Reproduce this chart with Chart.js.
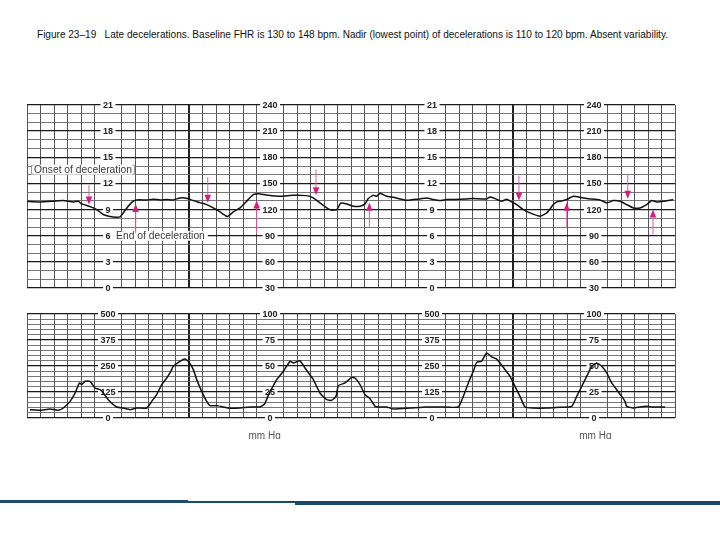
<!DOCTYPE html>
<html>
<head>
<meta charset="utf-8">
<script src="https://cdn.jsdelivr.net/npm/chart.js@4.4.1/dist/chart.umd.min.js"></script>
<style>
  html, body { margin: 0; padding: 0; background: #fff; }
  body { width: 720px; height: 540px; position: relative; overflow: hidden; font-family: 'Liberation Sans', Arial, sans-serif; }
  #title { position: absolute; left: 37px; top: 29.5px; font-size: 10px; line-height: 10px; white-space: pre; transform-origin: 0 0; color: #111; }
  #fhr { position: absolute; left: 17px; top: 95px; }
  #uc  { position: absolute; left: 17px; top: 304px; }
  .rule { position: absolute; background: #1b4a6e; }
</style>
</head>
<body>
<div id="title">Figure 23–19   Late decelerations. Baseline FHR is 130 to 148 bpm. Nadir (lowest point) of decelerations is 110 to 120 bpm. Absent variability.</div>
<canvas id="fhr" width="668" height="203"></canvas>
<canvas id="uc" width="668" height="135"></canvas>
<div class="rule" style="left:0;top:500px;width:188px;height:3px"></div>
<div class="rule" style="left:188px;top:501px;width:107px;height:2px"></div>
<div class="rule" style="left:295px;top:501px;width:425px;height:3.5px"></div>

<script>
// strip time in small boxes (one vertical grid step each)
const fhrTime = [0, 0.96, 1.95, 2.69, 3.43, 3.8, 4.05, 4.67, 5.16, 5.65, 6.15, 6.64, 6.89, 7.13, 7.5, 7.87, 8.12, 8.87, 9.36, 9.85,
  10.35, 10.84, 11.33, 11.83, 12.32, 12.81, 13.31, 13.8, 14.3, 14.84, 15.28, 15.78, 16.27, 16.76, 17.26, 17.88, 18.74, 19.73, 20.72, 21.21,
  21.7, 22.2, 22.57, 22.94, 23.24, 23.68, 24.17, 24.67, 25.04, 25.28, 25.65, 25.9, 26.15, 26.64, 27.13, 27.63, 28.13, 28.61, 29.11, 29.61,
  30.1, 30.59, 31.09, 31.58, 32.57, 33.06, 34.05, 34.3, 34.67, 35.16, 35.53, 35.9, 36.27, 36.76, 37.26, 38.0, 38.5, 38.99, 39.24, 39.73,
  39.98, 40.47, 40.96, 41.46, 42.44, 42.94, 43.43, 43.93, 44.42, 44.91, 45.41, 45.9, 46.27, 46.64, 47.13, 47.87];
const fhrBpm = [129.5, 128.8, 129.6, 130.3, 128.8, 129.6, 126.5, 123.4, 120.0, 114.3, 112.0, 111.2, 111.6, 116.2, 123.8, 129.6, 131.1, 131.1, 131.8, 131.1,
  131.5, 131.1, 133.4, 133.0, 130.3, 128.0, 125.7, 121.9, 117.3, 112.0, 117.3, 121.9, 129.6, 137.2, 138.0, 136.4, 135.3, 136.4, 136.0, 133.4,
  127.6, 121.9, 119.3, 120.0, 127.3, 126.5, 123.8, 123.8, 126.5, 132.6, 136.4, 135.3, 138.7, 135.3, 134.1, 132.2, 130.7, 131.5, 132.2, 133.4,
  131.5, 130.3, 131.5, 131.5, 132.2, 132.6, 132.2, 134.5, 132.6, 129.6, 131.8, 128.8, 125.7, 120.0, 116.2, 112.4, 116.2, 125.7, 128.8, 130.3,
  131.5, 135.3, 134.1, 132.6, 131.1, 127.6, 130.3, 129.6, 125.7, 121.9, 121.9, 125.7, 130.3, 128.8, 129.6, 131.5];

const ucTime = [0.22, 0.96, 1.7, 2.32, 2.69, 3.19, 3.56, 3.88, 4.05, 4.3, 4.67, 5.04, 5.41, 5.65, 6.02, 6.64, 7.13, 7.63, 8.12, 8.87,
  9.24, 9.6, 9.98, 10.35, 10.59, 10.84, 11.33, 11.7, 11.95, 12.32, 12.57, 12.94, 13.31, 13.56, 14.05, 14.54, 15.04, 15.78, 16.52, 17.26,
  17.6, 17.88, 18.2, 18.5, 18.99, 19.48, 19.73, 20.22, 20.59, 21.21, 21.7, 22.2, 22.57, 22.89, 23.06, 23.56, 24.05, 24.3, 24.67, 25.04,
  25.41, 25.78, 26.02, 26.64, 27.13, 28.37, 29.61, 30.59, 31.95, 32.32, 32.69, 33.06, 33.31, 33.68, 34.05, 34.42, 34.79, 35.04, 35.41, 35.78,
  36.15, 36.52, 36.89, 37.5, 38.5, 39.48, 40.35, 40.72, 41.09, 41.46, 41.83, 42.2, 42.57, 42.94, 43.31, 43.68, 44.05, 44.3, 44.42, 44.91,
  45.41, 45.9, 46.39, 47.26];
const ucValue = [8.0, 7.4, 8.7, 7.4, 9.6, 16.0, 24.0, 33.7, 32.1, 35.3, 35.3, 28.8, 27.2, 24.0, 17.6, 10.6, 9.6, 8.0, 9.6, 9.6,
  16.0, 22.4, 32.1, 38.5, 43.3, 49.7, 54.5, 56.7, 54.5, 46.5, 36.9, 25.6, 16.0, 11.9, 11.9, 10.6, 9.3, 9.6, 10.6, 10.6,
  13.5, 22.0, 30.0, 36.9, 44.9, 54.5, 52.9, 55.1, 48.1, 36.9, 24.0, 17.6, 17.0, 20.8, 31.1, 33.7, 39.1, 38.5, 32.1, 22.4,
  18.6, 11.2, 10.6, 10.6, 8.7, 9.6, 10.6, 10.6, 10.6, 20.8, 33.7, 44.9, 53.5, 54.5, 62.5, 58.7, 56.7, 52.9, 46.5, 40.1,
  30.4, 20.8, 10.6, 9.6, 9.6, 10.3, 11.2, 20.8, 30.4, 40.1, 49.7, 52.9, 49.7, 43.3, 33.7, 27.2, 20.8, 16.0, 11.2, 9.6,
  10.6, 11.2, 10.6, 10.6];

const fhrTickValues = [240, 210, 180, 150, 120, 90, 60, 30];
const kpaLabels = ['21', '18', '15', '12', '9', '6', '3', '0'];
const bpmLabels = ['240', '210', '180', '150', '120', '90', '60', '30'];
const ucTickValues = [100, 75, 50, 25, 0];
const ucLeftLabels = ['500', '375', '250', '125', '0'];
const ucRightLabels = ['100', '75', '50', '25', '0'];

// onset arrows point down, end arrows point up (bpm from tail to tip)
const onsetTime = [4.59, 13.39, 21.41, 36.44, 44.5];
const onsetFrom = [148, 157, 166, 159, 161];
const onsetTo = [125.7, 127.7, 136.4, 130.3, 132.3];
const endTime = [8.05, 17.01, 25.36, 39.98, 46.37];
const endFrom = [93.3, 92.2, 99.7, 99.7, 91.4];
const endTo = [126.5, 130.3, 127.7, 127.7, 120.0];

const LABEL_COLUMNS = [6, 18, 30, 42];
const THICK_COLUMNS = [12, 36];
const LABEL_FONT = 'bold 9px "Liberation Sans", Arial, sans-serif';
const NOTE_FONT = '10.3px "Liberation Sans", Arial, sans-serif';

// chart paper rulings
const boxColumns = Array.from({ length: 49 }, (_, i) => i);
const fhrRows = Array.from({ length: 22 }, (_, i) => 30 + i * 10);
const ucRows = Array.from({ length: 21 }, (_, i) => i * 5);
const fixTicks = list => axis => { axis.ticks = list.map(v => ({ value: v })); };

function xAxis() {
  return {
    type: 'linear', min: 0, max: 48,
    afterBuildTicks: fixTicks(boxColumns),
    ticks: { display: false },
    border: { display: false },
    grid: {
      drawTicks: false,
      color: c => LABEL_COLUMNS.includes(c.tick.value) ? 'rgba(0,0,0,0)' : (THICK_COLUMNS.includes(c.tick.value) ? '#222' : '#555'),
      lineWidth: c => THICK_COLUMNS.includes(c.tick.value) ? 2 : 1
    }
  };
}

function yAxis(min, max, rows, major) {
  return {
    min, max,
    afterBuildTicks: fixTicks(rows),
    ticks: { display: false },
    border: { display: false },
    grid: {
      drawTicks: false,
      color: c => c.tick.value % major === 0 ? '#1a1a1a' : '#666',
      lineWidth: c => c.tick.value % major === 0 ? 1.3 : 0.9
    }
  };
}

const stripLabels = {
  id: 'stripLabels',
  beforeDatasetsDraw(chart, args, opts) {
    const { ctx, scales: { x, y } } = chart;
    ctx.save();
    ctx.font = LABEL_FONT;
    ctx.textAlign = 'center';
    ctx.textBaseline = 'middle';
    LABEL_COLUMNS.forEach((col, ci) => {
      const labels = opts.labels[ci % 2];
      const px = x.getPixelForValue(col);
      opts.values.forEach((v, i) => {
        const py = y.getPixelForValue(v);
        const w = ctx.measureText(labels[i]).width + 5;
        ctx.fillStyle = '#fff';
        ctx.fillRect(px - w / 2, py - 5, w, 10);
        ctx.fillStyle = '#222';
        ctx.fillText(labels[i], px, py + 0.5);
      });
    });
    ctx.restore();
  }
};

function noteText(ctx, text, px, py, bracket) {
  ctx.font = NOTE_FONT;
  const w = ctx.measureText(text).width;
  ctx.fillStyle = '#fff';
  ctx.fillRect(px - 3, py - 5, w + 6, 10);
  if (bracket) {
    ctx.strokeStyle = '#999';
    ctx.lineWidth = 1;
    [px - 2.5, px + w + 2.5].forEach((bx, k) => {
      const d = k === 0 ? 2 : -2;
      ctx.beginPath();
      ctx.moveTo(bx + d, py - 4.5); ctx.lineTo(bx, py - 4.5); ctx.lineTo(bx, py + 4.5); ctx.lineTo(bx + d, py + 4.5);
      ctx.stroke();
    });
  }
  ctx.fillStyle = '#3a3a3a';
  ctx.textBaseline = 'middle';
  ctx.fillText(text, px, py + 0.5);
}

function drawArrow(ctx, x, y0, y1) {
  const dir = Math.sign(y1 - y0);
  const head = 8;
  ctx.strokeStyle = '#e45aa3';
  ctx.lineWidth = 1;
  ctx.beginPath(); ctx.moveTo(x, y0); ctx.lineTo(x, y1 - dir * head); ctx.stroke();
  ctx.fillStyle = '#d81b80';
  ctx.beginPath();
  ctx.moveTo(x, y1); ctx.lineTo(x - 3.3, y1 - dir * head); ctx.lineTo(x + 3.3, y1 - dir * head);
  ctx.closePath(); ctx.fill();
}

const fhrNotes = {
  id: 'fhrNotes',
  beforeDatasetsDraw(chart) {
    const { ctx, scales: { x, y } } = chart;
    ctx.save();
    noteText(ctx, 'Onset of deceleration', x.getPixelForValue(0.52), y.getPixelForValue(165.8), true);
    noteText(ctx, 'End of deceleration', x.getPixelForValue(6.6), y.getPixelForValue(90), false);
    ctx.restore();
  },
  afterDatasetsDraw(chart) {
    const { ctx, scales: { x, y } } = chart;
    ctx.save();
    onsetTime.forEach((t, i) => drawArrow(ctx, x.getPixelForValue(t), y.getPixelForValue(onsetFrom[i]), y.getPixelForValue(onsetTo[i])));
    endTime.forEach((t, i) => drawArrow(ctx, x.getPixelForValue(t), y.getPixelForValue(endFrom[i]), y.getPixelForValue(endTo[i])));
    ctx.restore();
  }
};

const ucUnits = {
  id: 'ucUnits',
  afterDraw(chart) {
    const { ctx, chartArea, scales: { x } } = chart;
    ctx.save();
    ctx.font = '10px "Liberation Sans", Arial, sans-serif';
    ctx.fillStyle = '#555';
    ctx.textAlign = 'center';
    ctx.textBaseline = 'middle';
    [17.6, 42.1].forEach(t => ctx.fillText('mm Hg', x.getPixelForValue(t), chartArea.bottom + 18));
    ctx.restore();
  }
};

const common = {
  responsive: false,
  animation: false,
  events: [],
  plugins: { legend: { display: false }, tooltip: { enabled: false } }
};

new Chart(document.getElementById('fhr'), {
  type: 'line',
  data: {
    datasets: [{
      data: fhrTime.map((t, i) => ({ x: t, y: fhrBpm[i] })),
      borderColor: '#111', borderWidth: 1.5, pointRadius: 0, tension: 0.15
    }]
  },
  options: {
    ...common,
    layout: { padding: { left: 10, right: 10, top: 10, bottom: 10 } },
    plugins: { ...common.plugins, stripLabels: { values: fhrTickValues, labels: [kpaLabels, bpmLabels] } },
    scales: { x: xAxis(), y: yAxis(30, 240, fhrRows, 30) }
  },
  plugins: [stripLabels, fhrNotes]
});

new Chart(document.getElementById('uc'), {
  type: 'line',
  data: {
    datasets: [{
      data: ucTime.map((t, i) => ({ x: t, y: ucValue[i] })),
      borderColor: '#111', borderWidth: 1.5, pointRadius: 0, tension: 0.15
    }]
  },
  options: {
    ...common,
    layout: { padding: { left: 10, right: 10, top: 10, bottom: 21 } },
    plugins: { ...common.plugins, stripLabels: { values: ucTickValues, labels: [ucLeftLabels, ucRightLabels] } },
    scales: { x: xAxis(), y: yAxis(0, 100, ucRows, 25) }
  },
  plugins: [stripLabels, ucUnits]
});

// stretch the caption to the width it has in the figure
const title = document.getElementById('title');
title.style.transform = 'scaleX(' + (631 / title.getBoundingClientRect().width) + ')';
</script>
</body>
</html>
